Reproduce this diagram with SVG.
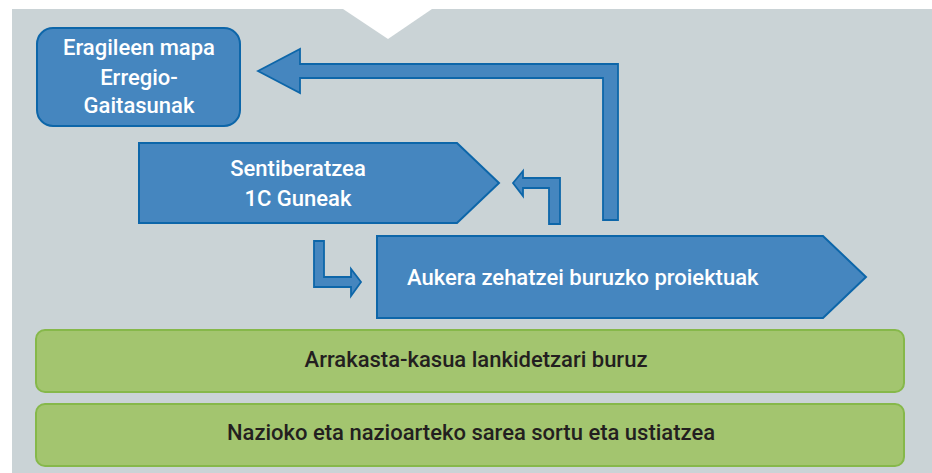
<svg xmlns="http://www.w3.org/2000/svg" width="932" height="473" viewBox="0 0 932 473">
<style>
.bg{fill:#CAD3D6}
.blue{fill:#4586BF;stroke:#0D66A9;stroke-width:2;stroke-linejoin:miter}
.conn{fill:#4586BF;stroke:#0D66A9;stroke-width:1.8;stroke-linejoin:miter}
.green{fill:#A3C56F;stroke:#86B84A;stroke-width:2}
.wt{font-family:Roboto,"Liberation Sans",sans-serif;font-weight:500;font-size:22px;fill:#FFFFFF}
.dt{font-family:Roboto,"Liberation Sans",sans-serif;font-weight:500;font-size:22px;fill:#231F20}
</style>
<rect width="932" height="473" fill="#FFFFFF"/>
<rect class="bg" x="12" y="9" width="920" height="464"/>
<polygon points="343,9 432,9 388,39" fill="#FFFFFF"/>
<g id="connectors">
<polygon class="conn" points="258,71 300,49 300,64 618,64 618,220 603,220 603,78 300,78 300,93"/>
<polygon class="conn" points="513,183 523,171 523,178 560,178 560,224 549,224 549,188 523,188 523,196"/>
<polygon class="conn" points="314,241 324,241 324,277 351,277 351,269 361,282 351,296 351,287 314,287"/>
</g>
<g id="node-eragileen">
<rect class="blue" x="37" y="28" width="203" height="98" rx="16"/>
<text class="wt" text-anchor="middle" x="139" y="55">Eragileen mapa</text>
<text class="wt" text-anchor="middle" x="139" y="85">Erregio-</text>
<text class="wt" text-anchor="middle" x="139" y="113">Gaitasunak</text>
</g>
<g id="node-sentiberatzea">
<polygon class="blue" points="139,143 457,143 499,183 457,223 139,223"/>
<text class="wt" text-anchor="middle" x="298" y="176">Sentiberatzea</text>
<text class="wt" text-anchor="middle" x="298" y="206">1C Guneak</text>
</g>
<g id="node-aukera">
<polygon class="blue" points="377,236 823,236 866,277 823,318 377,318"/>
<text class="wt" x="407" y="285">Aukera zehatzei buruzko proiektuak</text>
</g>
<g id="node-arrakasta">
<rect class="green" x="36" y="330" width="868" height="62" rx="9"/>
<text class="dt" text-anchor="middle" x="476" y="367">Arrakasta-kasua lankidetzari buruz</text>
</g>
<g id="node-nazioko">
<rect class="green" x="36" y="404" width="868" height="62" rx="9"/>
<text class="dt" text-anchor="middle" x="471" y="440">Nazioko eta nazioarteko sarea sortu eta ustiatzea</text>
</g>
</svg>
